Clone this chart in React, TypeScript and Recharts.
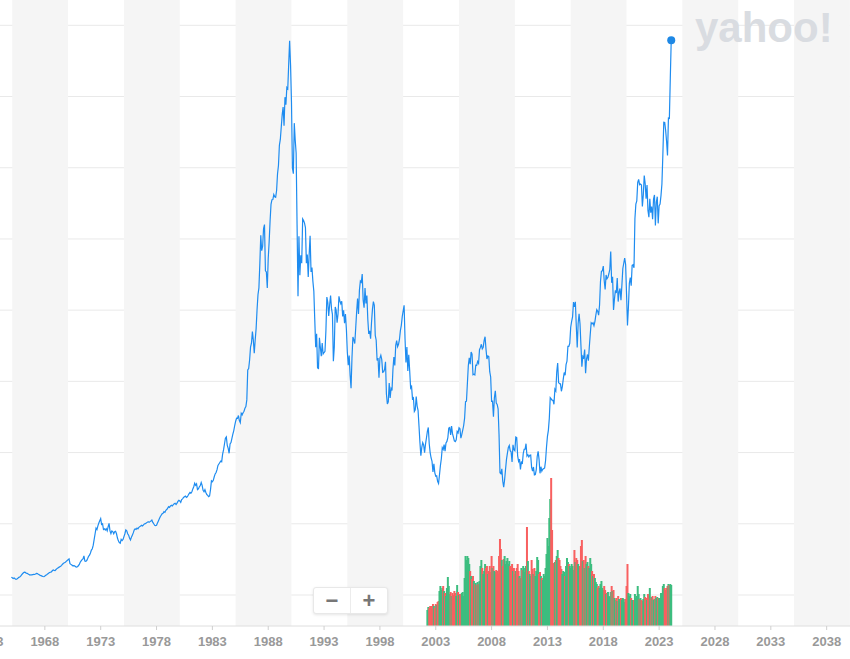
import React from 'react';
import {
  ComposedChart,
  Line,
  Bar,
  Cell,
  XAxis,
  YAxis,
  CartesianGrid,
  ReferenceArea,
  ReferenceDot,
} from 'recharts';

// Monthly closes (first of month), starting January 1965
const firstYear = 1965;

const closes1965to1969 = [
  1243, 1215, 1160, 1195, 1140, 1100, 1125, 1180, 1240, 1260, 1320, 1418,
  1490, 1560, 1600, 1585, 1530, 1520, 1480, 1440, 1400, 1420, 1410, 1430,
  1450, 1440, 1470, 1510, 1500, 1450, 1420, 1380, 1360, 1320, 1300, 1283,
  1330, 1380, 1420, 1480, 1530, 1580, 1600, 1620, 1700, 1760, 1730, 1715,
  1790, 1850, 1900, 1940, 1980, 2020, 2080, 2160, 2230, 2260, 2300, 2359,
];

const closes1970to1979 = [
  2420, 2480, 2534, 2200, 2150, 2100, 2050, 2060, 2050, 1990, 1960, 1987,
  2050, 2150, 2300, 2400, 2480, 2540, 2740, 2386, 2360, 2420, 2560, 2714,
  2800, 2950, 3150, 3250, 3500, 3900, 4300, 4700, 4600, 4850, 5050, 5208,
  5359, 4950, 5000, 4600, 4650, 4565, 4650, 4500, 4800, 5035, 4500, 4307,
  4500, 4450, 4300, 4445, 4470, 4300, 4000, 3800, 3680, 3630, 3900, 3817,
  3900, 4100, 4300, 4565, 4500, 4300, 4200, 4000, 3862, 4050, 4200, 4359,
  4560, 4650, 4600, 4700, 4650, 4750, 4800, 4850, 4900, 4850, 4920, 4991,
  5000, 5050, 5100, 5150, 5100, 5150, 5200, 5267, 5100, 5000, 4900, 4866,
  4900, 5050, 5200, 5350, 5500, 5600, 5700, 5737, 5850, 5800, 5950, 6002,
  6100, 6200, 6150, 6250, 6300, 6250, 6350, 6400, 6440, 6350, 6450, 6569,
];

const closes1980to1989 = [
  6650, 6600, 6500, 6700, 6750, 6850, 6900, 6950, 6850, 6900, 7000, 7116,
  7200, 7150, 7250, 7450, 7600, 7844, 7700, 7800, 7400, 7450, 7600, 7682,
  7900, 7700, 7350, 7254, 7400, 7200, 7050, 7000, 6903, 6950, 7400, 8017,
  7950, 8050, 8300, 8500, 8600, 8800, 9100, 9200, 9300, 9400, 9361, 9894,
  10183, 10600, 11004, 11100, 10500, 10300, 9951, 10600, 10700, 11004, 11300, 11543,
  11900, 12200, 12409, 12400, 12600, 12240, 12100, 12760, 12650, 12800, 12900, 13113,
  13223, 13700, 15800, 15900, 16500, 17400, 17676, 18493, 17900, 16973, 17900, 18701,
  20024, 21080, 21566, 23275, 25260, 24176, 24489, 25719, 26011, 22765, 22687, 21564,
  23622, 24800, 26260, 27435, 27758, 27770, 28112, 27965, 27925, 28400, 29580, 30159,
  31581, 31985, 32839, 33713, 34266, 32949, 34954, 34431, 35637, 35549, 37269, 38916,
];

const closes1990to1999 = [
  37189, 34591, 29980, 29584, 33131, 31940, 31036, 25978, 20984, 25194, 22455, 23849,
  23293, 26409, 26292, 26111, 25790, 23291, 23900, 22336, 23916, 25222, 22687, 22984,
  22023, 21339, 19346, 17391, 18348, 15952, 15910, 18061, 17399, 16767, 17684, 16925,
  17024, 17114, 18591, 20919, 20552, 19590, 20380, 21027, 20106, 19703, 16408, 17417,
  20229, 19997, 19112, 19725, 20974, 20644, 20449, 20629, 19564, 19990, 19076, 19723,
  18650, 17053, 16140, 16807, 15437, 14517, 16678, 18117, 17913, 17655, 18744, 19868,
  20813, 19734, 21407, 22041, 21956, 22531, 20693, 20167, 21556, 20467, 21020, 19361,
  18330, 18557, 18003, 19151, 20069, 20605, 20331, 18229, 17888, 16459, 16636, 15259,
  16628, 16832, 16527, 15641, 15671, 15830, 16379, 14108, 13406, 13564, 14884, 13842,
  14500, 14368, 15837, 16701, 16112, 17530, 17862, 17437, 17606, 17943, 18558, 18934,
];

const closes2000to2009 = [
  19540, 19960, 20337, 17974, 16332, 17411, 15727, 16861, 15747, 14540, 14649, 13786,
  13844, 12884, 12999, 13934, 13262, 12969, 11861, 10714, 9775, 10367, 10697, 10543,
  9998, 10588, 11025, 11493, 11764, 10622, 10000, 9620, 9383, 8640, 9216, 8579,
  8340, 8363, 7973, 7831, 8425, 9083, 9563, 10344, 10219, 10560, 10101, 10677,
  10784, 11042, 11715, 11762, 11236, 11859, 11326, 11082, 10824, 10771, 10899, 11489,
  11388, 11741, 11669, 11009, 11277, 11584, 11900, 12414, 13574, 13607, 14872, 16111,
  16650, 16205, 17060, 16906, 15467, 15505, 15457, 16141, 16128, 16399, 16274, 17226,
  17383, 17604, 17288, 17400, 17876, 18138, 17249, 16569, 16786, 16737, 15681, 15308,
  13592, 13603, 12526, 13850, 14339, 13482, 13377, 13073, 11260, 8577, 8512, 8860,
  7994, 7568, 8110, 8828, 9523, 9958, 10357, 10493, 10133, 10035, 9346, 10546,
];

const closes2010to2019 = [
  10198, 10126, 11090, 11057, 9769, 9383, 9537, 8824, 9369, 9202, 9937, 10229,
  10238, 10624, 9755, 9850, 9694, 9816, 9833, 8955, 8700, 8988, 8435, 8455,
  8803, 9723, 10084, 9521, 8543, 9007, 8695, 8840, 8870, 8928, 9446, 10395,
  11139, 11559, 12398, 13861, 13775, 13677, 13668, 13389, 14456, 14328, 15662, 16291,
  14915, 14841, 14828, 14304, 14632, 15162, 15621, 15425, 16174, 16414, 17460, 17451,
  17674, 18798, 19207, 19520, 20563, 20236, 20585, 18890, 17388, 19083, 19747, 19034,
  17518, 16027, 16759, 16666, 17235, 15576, 16569, 16887, 16450, 17425, 18308, 19114,
  19041, 19119, 18909, 19197, 19651, 20033, 19925, 19646, 20356, 22012, 22725, 22765,
  23098, 22068, 21454, 22468, 22202, 22305, 22554, 22865, 24120, 21920, 22351, 20015,
  20773, 21385, 21206, 22259, 20601, 21276, 21522, 20704, 21756, 22927, 23294, 23657,
];

const closes2020to2024 = [
  23205, 21143, 18917, 20194, 21878, 22288, 21710, 23140, 23185, 22977, 26434, 27444,
  27663, 28966, 29179, 28813, 28860, 28792, 27284, 28090, 29453, 28893, 27822, 28792,
  27002, 26527, 27821, 26848, 27280, 26393, 27802, 28092, 25937, 27587, 27969, 26095,
  27327, 27446, 28041, 28856, 30888, 33189, 33172, 32619, 31858, 30859, 33487, 33464,
  36287, 38950,
];

// Monthly volume (arbitrary units), starting April 2002
const volumeFirstYear = 2002;
const volumeFirstMonth = 4;

const volume2002to2009 = [
  160, 190, 180, 200, 170, 200, 220, 200, 180,
  220, 210, 240, 250, 350, 400, 360, 380, 400, 350, 330, 300,
  380, 490, 400, 320, 340, 300, 330, 310, 350, 330, 300, 410,
  340, 310, 320, 300, 330, 340, 300, 480, 700, 660, 700, 680,
  620, 550, 500, 470, 500, 450, 420, 430, 410, 440, 420, 450,
  600, 660, 580, 520, 550, 620, 580, 600, 520, 550, 600, 540,
  700, 580, 600, 550, 540, 560, 550, 520, 700, 870, 770, 660,
  600, 670, 700, 620, 650, 680, 620, 650, 600, 580, 620, 550,
];

const volume2010to2019 = [
  580, 520, 550, 580, 620, 550, 500, 480, 580, 560, 600, 540,
  580, 600, 990, 650, 550, 520, 500, 660, 570, 520, 580, 500,
  550, 690, 660, 520, 540, 500, 480, 460, 520, 500, 580, 720,
  880, 800, 1080, 1270, 1480, 960, 630, 620, 640, 660, 700, 760,
  680, 660, 600, 570, 520, 550, 540, 500, 600, 680, 640, 620,
  600, 580, 620, 600, 560, 760, 640, 680, 660, 620, 580, 600,
  800, 860, 650, 660, 580, 700, 620, 640, 600, 580, 680, 620,
  550, 500, 520, 480, 440, 420, 380, 400, 380, 420, 450, 380,
  360, 400, 360, 320, 330, 340, 300, 290, 340, 400, 350, 360,
  280, 260, 280, 250, 300, 270, 250, 280, 260, 280, 270, 240,
];

const volume2020to2024 = [
  270, 400, 620, 330, 300, 320, 280, 260, 250, 260, 320, 280,
  300, 400, 320, 270, 280, 260, 250, 270, 320, 290, 280, 260,
  320, 300, 380, 280, 290, 300, 260, 270, 300, 280, 290, 280,
  280, 270, 330, 300, 400, 420, 380, 360, 380, 400, 420, 410,
  420, 410,
];

const yearTicks = [1963, 1968, 1973, 1978, 1983, 1988, 1993, 1998, 2003, 2008, 2013, 2018, 2023, 2028, 2033, 2038];
const gridValues = [0, 5000, 10000, 15000, 20000, 25000, 30000, 35000, 40000];
const bandStarts = [1965.08, 1975.08, 1985.08, 1995.08, 2005.08, 2015.08, 2025.08, 2035.08];

const closes = [
  ...closes1965to1969,
  ...closes1970to1979,
  ...closes1980to1989,
  ...closes1990to1999,
  ...closes2000to2009,
  ...closes2010to2019,
  ...closes2020to2024,
];
const volumes = [...volume2002to2009, ...volume2010to2019, ...volume2020to2024];
const volumeOffset = (volumeFirstYear - firstYear) * 12 + (volumeFirstMonth - 1);

const data = closes.map((c, i) => {
  const vi = i - volumeOffset;
  return {
    t: firstYear + i / 12,
    close: c,
    volume: vi >= 0 && vi < volumes.length ? volumes[vi] : null,
    up: i === 0 ? true : c >= closes[i - 1],
  };
});

const last = data[data.length - 1];

const GREEN = '#3dbd7f';
const RED = '#f86060';
const LINE = '#1e8cf0';

const VolumeBar = (props: any) => {
  const { x, y, width, height, fill } = props;
  if (!height || height <= 0) return null;
  const cx = x + width / 2;
  return <rect x={cx - 1} y={y} width={2} height={height} fill={fill} />;
};

export default function App() {
  return (
    <div
      style={{
        position: 'absolute',
        left: 0,
        top: 0,
        width: 850,
        height: 659,
        overflow: 'hidden',
        background: '#fff',
      }}
    >
      <div style={{ position: 'absolute', left: -11, top: 0 }}>
        <ComposedChart
          width={861}
          height={659}
          data={data}
          margin={{ top: 0, right: 0, bottom: 0, left: 0 }}
        >
          {bandStarts.map((b) => (
            <ReferenceArea key={b} x1={b} x2={b + 5} fill="#f5f5f5" fillOpacity={1} stroke="none" ifOverflow="hidden" />
          ))}
          <CartesianGrid vertical={false} stroke="#e9e9e9" horizontalValues={gridValues} syncWithTicks={false} />
          <XAxis
            dataKey="t"
            type="number"
            domain={[1963, 2040.09]}
            ticks={yearTicks}
            interval={0}
            allowDataOverflow
            height={33}
            tickSize={4}
            tickMargin={7}
            axisLine={{ stroke: '#dedede' }}
            tickLine={{ stroke: '#cfcfcf' }}
            tick={{ fill: '#999999', fontSize: 13, fontWeight: 700, fontFamily: '"Liberation Sans", Arial, sans-serif' }}
          />
          <YAxis hide domain={[-2177, 41777]} ticks={gridValues} allowDataOverflow />
          <YAxis yAxisId="vol" hide domain={[0, 6260]} allowDataOverflow />
          <Bar dataKey="volume" yAxisId="vol" shape={VolumeBar} isAnimationActive={false}>
            {data.map((d, i) => (
              <Cell key={i} fill={d.up ? GREEN : RED} />
            ))}
          </Bar>
          <Line
            type="linear"
            dataKey="close"
            stroke={LINE}
            strokeWidth={1.2}
            dot={false}
            activeDot={false}
            isAnimationActive={false}
          />
          <ReferenceDot x={last.t} y={last.close} r={4} fill="#1e88e5" stroke="none" />
        </ComposedChart>
      </div>
      <svg
        width={850}
        height={659}
        style={{ position: 'absolute', left: 0, top: 0, pointerEvents: 'none' }}
      >
        <text
          x={695}
          y={42}
          fontSize={42}
          fontWeight={700}
          fontFamily='"Liberation Sans", Arial, sans-serif'
          fill="#d9dce1"
        >
          yahoo!
        </text>
      </svg>
      <div
        style={{
          position: 'absolute',
          left: 313,
          top: 587,
          width: 75,
          height: 27,
          background: '#fff',
          border: '1px solid #e8e8e8',
          borderRadius: 3,
          boxShadow: '0 1px 3px rgba(0,0,0,0.10)',
          display: 'flex',
          boxSizing: 'border-box',
          fontFamily: '"Liberation Sans", Arial, sans-serif',
        }}
      >
        <div
          style={{
            flex: 1,
            display: 'flex',
            alignItems: 'center',
            justifyContent: 'center',
            color: '#777',
            fontSize: 22,
            fontWeight: 700,
            borderRight: '1px solid #ececec',
          }}
        >
          −
        </div>
        <div
          style={{
            flex: 1,
            display: 'flex',
            alignItems: 'center',
            justifyContent: 'center',
            color: '#777',
            fontSize: 22,
            fontWeight: 700,
          }}
        >
          +
        </div>
      </div>
    </div>
  );
}
